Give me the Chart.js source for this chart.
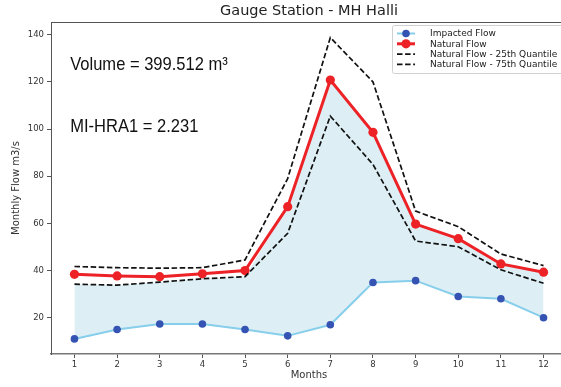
<!DOCTYPE html>
<html>
<head>
  <title>Gauge Station - MH Halli</title>
  <script src="https://cdn.jsdelivr.net/npm/chart.js@4.4.2/dist/chart.umd.min.js"></script>
  <style>
    html, body { margin: 0; padding: 0; background: #fff; overflow: hidden; }
    #wrap { width: 618px; height: 387px; }
  </style>
</head>
<body>
<div id="wrap"><canvas id="flowChart" width="618" height="387"></canvas></div>
<script>
const months = [1, 2, 3, 4, 5, 6, 7, 8, 9, 10, 11, 12];
const impactedFlow = [11.0, 15.0, 17.3, 17.3, 15.0, 12.3, 17.0, 34.9, 35.7, 29.0, 28.0, 20.0];
const naturalFlow = [38.4, 37.7, 37.4, 38.6, 40.0, 67.1, 120.8, 98.6, 59.7, 53.5, 42.8, 39.3];
const naturalQ25 = [34.2, 33.8, 35.1, 36.5, 37.4, 55.8, 105.5, 85.0, 52.5, 50.1, 40.3, 34.6];
const naturalQ75 = [41.7, 41.2, 41.0, 41.2, 44.5, 79.0, 138.8, 120.0, 65.2, 58.6, 47.0, 42.1];
// upper edge of the shaded band
const bandTop = [34.2, 33.8, 35.1, 36.5, 37.4, 67.1, 120.8, 98.6, 59.7, 53.5, 42.8, 39.3];
const yTicks = [20, 40, 60, 80, 100, 120, 140];
const notes = ['Volume = 399.512 m\u00B3', 'MI-HRA1 = 2.231'];

const pts = arr => arr.map((v, i) => ({ x: months[i], y: v }));
const FONT = '"DejaVu Sans", sans-serif';

// top/right spines, notes and the legend box
const extras = {
  id: 'extras',
  afterDraw(chart) {
    const { ctx, chartArea: a, scales } = chart;
    ctx.save();
    ctx.strokeStyle = '#555';
    ctx.lineWidth = 1;
    ctx.beginPath();
    ctx.moveTo(a.left, a.top + 0.5);
    ctx.lineTo(a.right, a.top + 0.5);
    ctx.lineTo(a.right, a.bottom);
    ctx.stroke();

    // text notes, squeezed a little to match the narrow face
    ctx.fillStyle = '#111';
    ctx.font = '19px "Liberation Sans", sans-serif';
    ctx.textBaseline = 'alphabetic';
    const nx = scales.x.getPixelForValue(0.9);
    [[notes[0], 125.2], [notes[1], 98.8]].forEach(([t, v]) => {
      ctx.save();
      ctx.translate(nx, scales.y.getPixelForValue(v));
      ctx.scale(0.87, 1);
      ctx.fillText(t, 0, 0);
      ctx.restore();
    });

    // legend
    const lx = 392, ly = 25, lw = 180, lh = 48;
    ctx.fillStyle = 'rgba(255,255,255,0.85)';
    ctx.strokeStyle = '#d0d0d0';
    ctx.lineWidth = 1;
    ctx.beginPath();
    ctx.roundRect(lx + 0.5, ly + 0.5, lw, lh, 2);
    ctx.fill();
    ctx.stroke();
    const items = chart.data.datasets.filter(d => !d.noLegend);
    ctx.font = '9px ' + FONT;
    ctx.textBaseline = 'middle';
    items.forEach((d, i) => {
      const y = ly + 8.5 + i * 10.3;
      ctx.strokeStyle = d.borderColor;
      ctx.lineWidth = d.borderWidth;
      ctx.setLineDash(d.borderDash || []);
      ctx.beginPath();
      ctx.moveTo(lx + 5, y);
      ctx.lineTo(lx + 23, y);
      ctx.stroke();
      ctx.setLineDash([]);
      if (d.pointRadius > 0) {
        ctx.fillStyle = d.pointBackgroundColor;
        ctx.beginPath();
        ctx.arc(lx + 14, y, d.pointRadius, 0, Math.PI * 2);
        ctx.fill();
      }
      ctx.fillStyle = '#1a1a1a';
      ctx.fillText(d.label, lx + 38, y + 0.5);
    });
    ctx.restore();
  }
};

new Chart(document.getElementById('flowChart'), {
  type: 'line',
  data: {
    datasets: [
      {
        label: 'band',
        noLegend: true,
        data: pts(bandTop),
        borderWidth: 0,
        pointRadius: 0,
        borderColor: 'rgba(0,0,0,0)',
        fill: { target: 1, above: 'rgba(173,216,230,0.42)', below: 'rgba(173,216,230,0.42)' },
        order: 10
      },
      {
        label: 'Impacted Flow',
        data: pts(impactedFlow),
        borderColor: '#87CEEB',
        borderWidth: 2,
        pointRadius: 3.8,
        pointBackgroundColor: '#3553b3',
        pointBorderWidth: 0,
        fill: false,
        order: 5
      },
      {
        label: 'Natural Flow',
        data: pts(naturalFlow),
        borderColor: '#ec2227',
        borderWidth: 3,
        pointRadius: 4.6,
        pointBackgroundColor: '#ec2227',
        pointBorderWidth: 0,
        fill: false,
        order: 4
      },
      {
        label: 'Natural Flow - 25th Quantile',
        data: pts(naturalQ25),
        borderColor: '#111',
        borderWidth: 1.7,
        borderDash: [5.5, 2.6],
        pointRadius: 0,
        fill: false,
        order: 3
      },
      {
        label: 'Natural Flow - 75th Quantile',
        data: pts(naturalQ75),
        borderColor: '#111',
        borderWidth: 1.7,
        borderDash: [5.5, 2.6],
        pointRadius: 0,
        fill: false,
        order: 2
      }
    ]
  },
  options: {
    responsive: false,
    animation: false,
    tension: 0,
    layout: { padding: 0 },
    plugins: {
      legend: { display: false },
      tooltip: { enabled: false },
      title: {
        display: true,
        text: 'Gauge Station - MH Halli',
        color: '#222',
        font: { family: FONT, size: 14.5, weight: 'normal' },
        padding: { top: 3, bottom: 1.6 }
      }
    },
    scales: {
      x: {
        type: 'linear',
        min: 0.45,
        max: 12.55,
        afterBuildTicks: s => { s.ticks = months.map(v => ({ value: v })); },
        afterFit: s => { s.height = 33; },
        ticks: { color: '#333', font: { family: FONT, size: 8.5 }, padding: 2, maxRotation: 0, autoSkip: false },
        grid: { drawOnChartArea: false, drawTicks: true, tickLength: 4, color: '#555' },
        border: { display: true, color: '#777', width: 1.5 },
        title: { display: true, text: 'Months', color: '#333', font: { family: FONT, size: 10 }, padding: { top: 0, bottom: 6 } }
      },
      y: {
        type: 'linear',
        min: 4.6,
        max: 145.4,
        afterBuildTicks: s => { s.ticks = yTicks.map(v => ({ value: v })); },
        afterFit: s => { s.width = 51; },
        ticks: { color: '#333', font: { family: FONT, size: 8.5 }, padding: 3 },
        grid: { drawOnChartArea: false, drawTicks: true, tickLength: 4, color: '#555' },
        border: { display: true, color: '#555', width: 1 },
        title: { display: true, text: 'Monthly Flow m3/s', color: '#333', font: { family: FONT, size: 10 }, padding: { top: 10, bottom: 0 } }
      },
      // empty right-hand axis keeping the plot area at the same width as the figure margin
      yRight: {
        type: 'linear',
        position: 'right',
        min: 0,
        max: 1,
        afterFit: s => { s.width = 51; },
        ticks: { display: false },
        grid: { display: false },
        border: { display: false }
      }
    }
  },
  plugins: [extras]
});
</script>
</body>
</html>
